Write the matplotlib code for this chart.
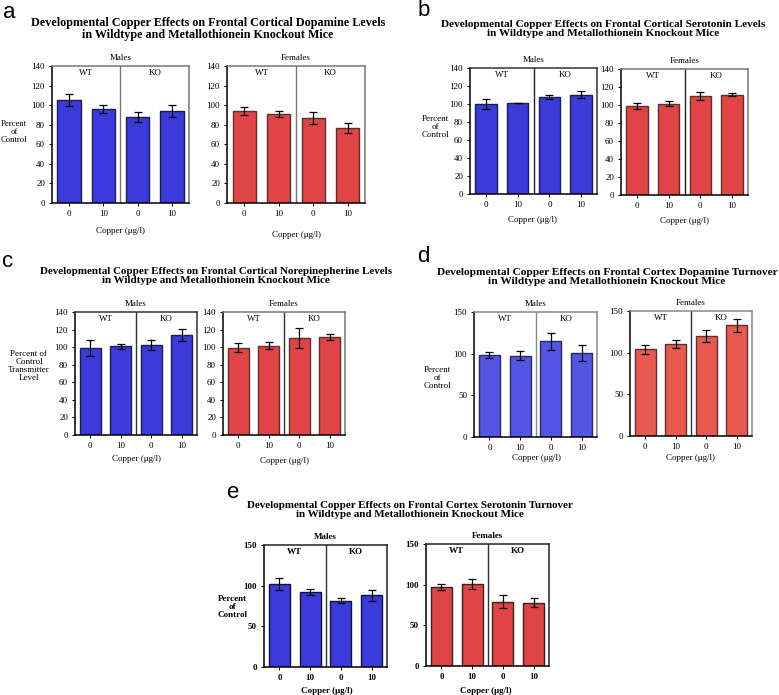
import matplotlib
matplotlib.use("Agg")
import matplotlib.pyplot as plt
import numpy as np

plt.rcParams['font.family'] = ['Liberation Serif', 'DejaVu Serif']

W, H = 779, 695

# ---------------- data ----------------
groups = ["WT", "KO"]
copper_ticks = ["0", "10", "0", "10"]

a_title = "Developmental Copper Effects on Frontal Cortical Dopamine Levels\nin Wildtype and Metallothionein Knockout Mice"
a_males = [105, 96, 88, 94]
a_males_err = [6, 4, 5, 6.5]
a_females = [94, 91, 87, 77]
a_females_err = [4.5, 3, 6.5, 5]

b_title = "Developmental Copper Effects on Frontal Cortical Serotonin Levels\nin Wildtype and Metallothionein Knockout Mice"
b_males = [100, 101, 108, 110.5]
b_males_err = [5.5, 0, 2.5, 4]
b_females = [99, 101.5, 110, 111.5]
b_females_err = [3, 3, 4.5, 2]

c_title = "Developmental Copper Effects on Frontal Cortical Norepinepherine Levels\nin Wildtype and Metallothionein Knockout Mice"
c_males = [99, 101, 102.5, 113.5]
c_males_err = [9.5, 3, 6, 7]
c_females = [99.5, 101.5, 110.5, 112]
c_females_err = [5, 4, 11, 3.5]

d_title = "Developmental Copper Effects on Frontal Cortex Dopamine Turnover\nin Wildtype and Metallothionein Knockout Mice"
d_males = [98.5, 97.5, 115, 101]
d_males_err = [3.5, 5.5, 10, 10]
d_females = [104, 110.5, 120, 133]
d_females_err = [5.5, 5, 7.5, 8]

e_title = "Developmental Copper Effects on Frontal Cortex Serotonin Turnover\nin Wildtype and Metallothionein Knockout Mice"
e_males = [102, 92, 81.5, 88]
e_males_err = [7, 3.5, 3, 7]
e_females = [97, 101, 79, 78]
e_females_err = [4, 6.5, 8, 5]

ylim_140 = (0, 140)
yticks_140 = [0, 20, 40, 60, 80, 100, 120, 140]
ylim_150 = (0, 150)
yticks_150 = [0, 50, 100, 150]

# ---------------- helpers ----------------
fig = plt.figure(figsize=(W / 100, H / 100), dpi=100)


def fx(x):
    return x / W


def fy(y):
    return 1 - y / H


def add_ax(l, t, r, b):
    return fig.add_axes([l / W, 1 - b / H, (r - l) / W, (b - t) / H])


def draw_panel(box, values, errs, color, edge, ylim, yticks, sex, frame_col,
               div_col, bold=False):
    ax = add_ax(*box)
    wt = 'bold' if bold else 'normal'
    x = np.arange(len(values))
    ax.bar(x, values, width=0.68, color=color, edgecolor=edge, linewidth=1.0,
           zorder=2)
    ax.errorbar(x, values, yerr=errs, fmt='none', ecolor='black',
                elinewidth=0.9, capsize=2.6, capthick=0.9, zorder=3)
    ax.set_xlim(-0.5, 3.5)
    ax.set_ylim(*ylim)
    ax.set_yticks(yticks)
    ax.set_yticklabels([str(t) for t in yticks], fontsize=6.5, fontweight=wt)
    ax.set_xticks(x)
    ax.set_xticklabels(copper_ticks, fontsize=6.5, fontweight=wt)
    ax.tick_params(axis='both', direction='out', length=2.5, width=0.7,
                   pad=2.5)
    ax.tick_params(axis='x', pad=2.5)
    for s in ['left', 'bottom']:
        ax.spines[s].set_color('black')
        ax.spines[s].set_linewidth(1.1)
    for s in ['top', 'right']:
        ax.spines[s].set_color(frame_col)
        ax.spines[s].set_linewidth(1.1)
    ax.axvline(1.5, color=div_col, linewidth=1.0, zorder=1)
    for gi, g in enumerate(groups):
        ax.annotate(g, xy=(0.5 + 2 * gi, 1), xycoords=('data', 'axes fraction'),
                    xytext=(0, -7), textcoords='offset pixels',
                    ha='center', va='center', fontsize=6.5, fontweight=wt)
    ax.annotate(sex, xy=(0.5, 1), xycoords='axes fraction',
                xytext=(0, 8), textcoords='offset pixels',
                ha='center', va='center', fontsize=6.5, fontweight=wt)
    return ax


def ftext(x, y, s, **kw):
    fig.text(fx(x), fy(y), s, **kw)


BLUE = '#3b3bdc'
RED = '#e14444'
BLUE_D = '#5356e2'
RED_D = '#e85a4f'

# ---------------- panel a ----------------
ftext(9, 12, "a", family='Liberation Sans', fontsize=16, ha='center', va='center')
ftext(208, 29, a_title, fontsize=8.7, fontweight='bold', ha='center',
      va='center', linespacing=1.0)
draw_panel((52, 66, 189, 203), a_males, a_males_err, BLUE, '#1c1c50',
           ylim_140, yticks_140, "Males", '#777777', '#777777')
draw_panel((227, 66, 365, 203), a_females, a_females_err, RED, '#5a3030',
           ylim_140, yticks_140, "Females", '#777777', '#777777')
ftext(14, 132, "Percent\nof\nControl", fontsize=6.2, ha='center', va='center',
      linespacing=1.0)
ftext(120, 231, "Copper (μg/l)", fontsize=6.5, ha='center', va='center')
ftext(296, 235, "Copper (μg/l)", fontsize=6.5, ha='center', va='center')

# ---------------- panel b ----------------
ftext(424, 10, "b", family='Liberation Sans', fontsize=16, ha='center', va='center')
ftext(603, 29, b_title, fontsize=8.1, fontweight='bold', ha='center',
      va='center', linespacing=1.0)
draw_panel((470, 68, 597, 194), b_males, b_males_err, BLUE, '#1c1c50',
           ylim_140, yticks_140, "Males", '#333333', '#222222')
draw_panel((621, 69, 748, 195), b_females, b_females_err, RED, '#5a3030',
           ylim_140, yticks_140, "Females", '#777777', '#222222')
ftext(435, 127, "Percent\nof\nControl", fontsize=6.5, ha='center', va='center',
      linespacing=1.0)
ftext(533, 220, "Copper (μg/l)", fontsize=6.5, ha='center', va='center')
ftext(684, 221, "Copper (μg/l)", fontsize=6.5, ha='center', va='center')

# ---------------- panel c ----------------
ftext(8, 262, "c", family='Liberation Sans', fontsize=16, ha='center', va='center')
ftext(216, 276, c_title, fontsize=7.9, fontweight='bold', ha='center',
      va='center', linespacing=1.0)
draw_panel((75, 312, 197, 435), c_males, c_males_err, BLUE, '#1c1c50',
           ylim_140, yticks_140, "Males", '#333333', '#333333')
draw_panel((223, 312, 345, 435), c_females, c_females_err, RED, '#5a3030',
           ylim_140, yticks_140, "Females", '#777777', '#333333')
ftext(29, 366, "Percent of\nControl\nTransmitter\nLevel", fontsize=6.5,
      ha='center', va='center', linespacing=1.0)
ftext(136, 459, "Copper (μg/l)", fontsize=6.5, ha='center', va='center')
ftext(284, 461, "Copper (μg/l)", fontsize=6.5, ha='center', va='center')

# ---------------- panel d ----------------
ftext(423, 256, "d", family='Liberation Sans', fontsize=16, ha='center', va='center')
ftext(607, 277, d_title, fontsize=8.2, fontweight='bold', ha='center',
      va='center', linespacing=1.0)
draw_panel((474, 312, 597, 437), d_males, d_males_err, BLUE_D, '#2a2a60',
           ylim_150, yticks_150, "Males", '#888888', '#888888')
draw_panel((630, 311, 752, 436), d_females, d_females_err, RED_D, '#5a3030',
           ylim_150, yticks_150, "Females", '#888888', '#333333')
ftext(437, 378, "Percent\nof\nControl", fontsize=6.5, ha='center', va='center',
      linespacing=1.0)
ftext(536, 458, "Copper (μg/l)", fontsize=6.5, ha='center', va='center')
ftext(691, 458, "Copper (μg/l)", fontsize=6.5, ha='center', va='center')

# ---------------- panel e ----------------
ftext(233, 493, "e", family='Liberation Sans', fontsize=16, ha='center', va='center')
ftext(410, 510, e_title, fontsize=7.9, fontweight='bold', ha='center',
      va='center', linespacing=1.0)
draw_panel((264, 545, 387, 667), e_males, e_males_err, BLUE, '#111133',
           ylim_150, yticks_150, "Males", '#222222', '#333333', bold=True)
draw_panel((426, 544, 549, 666), e_females, e_females_err, RED, '#3a2020',
           ylim_150, yticks_150, "Females", '#222222', '#333333', bold=True)
ftext(232, 607, "Percent\nof\nControl", fontsize=6.5, fontweight='bold',
      ha='center', va='center', linespacing=1.0)
ftext(327, 691, "Copper (μg/l)", fontsize=6.5, fontweight='bold',
      ha='center', va='center')
ftext(486, 691, "Copper (μg/l)", fontsize=6.5, fontweight='bold',
      ha='center', va='center')

fig.savefig("out.png", dpi=100)
